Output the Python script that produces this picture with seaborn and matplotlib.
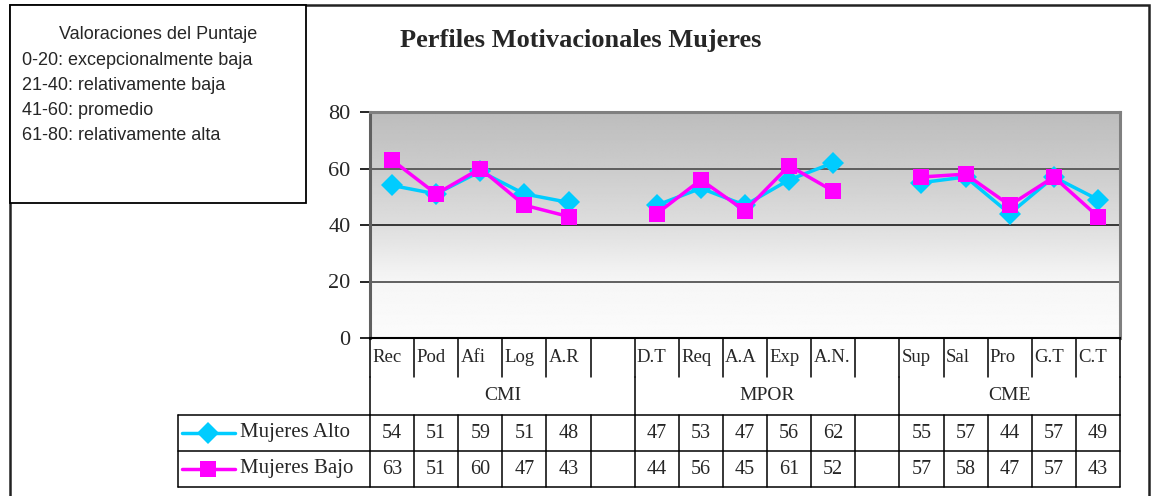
import matplotlib

matplotlib.use("Agg")
import matplotlib.pyplot as plt
import matplotlib.transforms as mtransforms
from matplotlib.lines import Line2D
from matplotlib.patches import Rectangle
import numpy as np
import pandas as pd
import seaborn as sns

# data
categorias = ["Rec", "Pod", "Afi", "Log", "A.R", "",
              "D.T", "Req", "A.A", "Exp", "A.N.", "",
              "Sup", "Sal", "Pro", "G.T", "C.T"]
grupos = ["CMI", "MPOR", "CME"]
mujeres_alto = [54, 51, 59, 51, 48, None, 47, 53, 47, 56, 62, None, 55, 57, 44, 57, 49]
mujeres_bajo = [63, 51, 60, 47, 43, None, 44, 56, 45, 61, 52, None, 57, 58, 47, 57, 43]
series = ["Mujeres Alto", "Mujeres Bajo"]
y_ticks = [0, 20, 40, 60, 80]
valoraciones_titulo = "Valoraciones del Puntaje"
valoraciones = ["0-20: excepcionalmente baja", "21-40: relativamente baja",
                "41-60: promedio", "61-80: relativamente alta"]
titulo = "Perfiles Motivacionales Mujeres"

colores = {"Mujeres Alto": "#00ccff", "Mujeres Bajo": "#ff00ff"}
marcadores = {"Mujeres Alto": "D", "Mujeres Bajo": "s"}

# long table, one line segment per group (blank slots break the lines)
grupo_de_slot = []
g = 0
for c in categorias:
    if c == "":
        grupo_de_slot.append(None)
        g += 1
    else:
        grupo_de_slot.append(grupos[g])

rows = []
for nombre, vals in zip(series, [mujeres_alto, mujeres_bajo]):
    for i, v in enumerate(vals):
        if v is not None:
            rows.append({"pos": i, "valor": v, "serie": nombre, "grupo": grupo_de_slot[i]})
df = pd.DataFrame(rows)

sns.set_theme(style="white")
plt.rcParams["font.family"] = ["Liberation Serif", "DejaVu Serif"]

W, H = 1153, 496
PL, PR, PT, PB = 370, 1120, 112, 338
fig = plt.figure(figsize=(W / 100, H / 100), dpi=100)
ax = fig.add_axes([PL / W, 1 - PB / H, (PR - PL) / W, (PB - PT) / H])

n = len(categorias)
ax.set_xlim(-0.5, n - 0.5)
ax.set_ylim(0, 80)

# gray-to-white gradient background
grad = np.interp(np.linspace(80, 0, 200), [0, 20, 40, 60, 80], [0.985, 0.965, 0.87, 0.8, 0.74])
grad = grad[:, None] * np.ones((1, 10))
ax.imshow(grad, cmap="gray", vmin=0, vmax=1, aspect="auto",
          extent=(-0.5, n - 0.5, 0, 80), zorder=0, interpolation="bilinear")

for yv in y_ticks[1:-1]:
    ax.axhline(yv, color="#2a2a2a" if yv == 40 else "#555555", lw=1.3, zorder=1)

sns.lineplot(data=df, x="pos", y="valor", hue="serie", style="serie", units="grupo",
             estimator=None, palette=colores, markers=marcadores, dashes=False,
             linewidth=2.5, markersize=11, markeredgewidth=0, ax=ax, legend=False, zorder=3)

ax.set_xticks([])
ax.set_yticks(y_ticks)
ax.set_yticklabels([str(t) for t in y_ticks], fontsize=16)
ax.tick_params(axis="y", left=True, length=7, width=1.2, direction="out", pad=7, color="black")
ax.set_xlabel("")
ax.set_ylabel("")
ax.spines["left"].set_color("#606060")
ax.spines["left"].set_linewidth(2.2)
ax.spines["bottom"].set_color("black")
ax.spines["bottom"].set_linewidth(1.5)
for s in ["top", "right"]:
    ax.spines[s].set_color("#808080")
    ax.spines[s].set_linewidth(2.2)

# data table under the plot
bt = mtransforms.blended_transform_factory(ax.transData, fig.transFigure)


def fy(py):
    return 1 - py / H


def fx(px):
    return px / W


ROW_CAT, ROW_GRP, ROW_A, ROW_B, ROW_END = PB, 377, 415, 451, 487
lw_t = 1.1
bordes = [i - 0.5 for i in range(n + 1)]
limites_grupo = [-0.5] + [i + 0.5 for i, c in enumerate(categorias) if c == ""] + [n - 0.5]

for b in bordes:
    fig.add_artist(Line2D([b, b], [fy(ROW_CAT), fy(ROW_GRP)], transform=bt, color="black", lw=lw_t))
    fig.add_artist(Line2D([b, b], [fy(ROW_A), fy(ROW_END)], transform=bt, color="black", lw=lw_t))
for b in limites_grupo:
    fig.add_artist(Line2D([b, b], [fy(ROW_GRP), fy(ROW_A)], transform=bt, color="black", lw=lw_t))

for py in [ROW_A, ROW_B, ROW_END]:
    fig.add_artist(Line2D([fx(178), fx(PR)], [fy(py), fy(py)], transform=fig.transFigure,
                          color="black", lw=lw_t))
fig.add_artist(Line2D([fx(178), fx(178)], [fy(ROW_A), fy(ROW_END)], transform=fig.transFigure,
                      color="black", lw=lw_t))

for i, c in enumerate(categorias):
    if c:
        fig.text(i - 0.45, fy(357), c, transform=bt, ha="left", va="center", fontsize=13.5)

for k, gname in enumerate(grupos):
    centro = (limites_grupo[k] + limites_grupo[k + 1]) / 2
    fig.text(centro, fy(396), gname, transform=bt, ha="center", va="center", fontsize=14)

for nombre, vals, py in zip(series, [mujeres_alto, mujeres_bajo], [433, 469]):
    for i, v in enumerate(vals):
        if v is not None:
            fig.text(i, fy(py), str(v), transform=bt, ha="center", va="center", fontsize=14.5)
    fig.add_artist(Line2D([fx(182), fx(235)], [fy(py), fy(py)], transform=fig.transFigure,
                          color=colores[nombre], lw=2.5))
    fig.add_artist(Line2D([fx(208)], [fy(py)], transform=fig.transFigure, marker=marcadores[nombre],
                          color=colores[nombre], markersize=11, markeredgewidth=0))
    fig.text(fx(240), fy(py), nombre, ha="left", va="center", fontsize=15)

# outer chart frame and score legend box
fig.add_artist(Rectangle((fx(10), fy(510)), fx(1149) - fx(10), fy(5) - fy(510),
                         transform=fig.transFigure, fill=False, edgecolor="#222222", lw=1.8))
fig.add_artist(Rectangle((fx(10), fy(203)), fx(306) - fx(10), fy(5) - fy(203),
                         transform=fig.transFigure, facecolor="white", edgecolor="black", lw=1.3))
fig.text(fx(158), fy(39), valoraciones_titulo, ha="center", va="baseline", fontsize=13,
         family=["Liberation Sans", "DejaVu Sans"])
for k, t in enumerate(valoraciones):
    fig.text(fx(22), fy(65 + 25 * k), t, ha="left", va="baseline", fontsize=13,
             family=["Liberation Sans", "DejaVu Sans"])

fig.text(fx(581), fy(40), titulo, ha="center", va="center", fontsize=19, fontweight="bold")

fig.savefig("out.png", dpi=100)
plt.close(fig)
